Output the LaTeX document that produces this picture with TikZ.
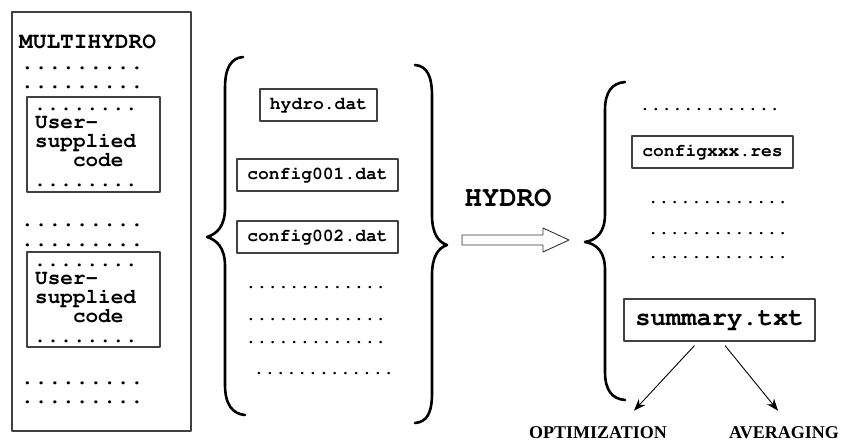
\documentclass[tikz,border=0pt]{standalone}
\usepackage{fontspec}
\usepackage{tikz}
\usetikzlibrary{arrows.meta, positioning}
\newfontfamily\labelfont{Liberation Serif}
\newcommand{\cour}{\fontencoding{T1}\fontfamily{pcr}\fontseries{b}\selectfont}

\begin{document}
\begin{tikzpicture}[x=1pt, y=-1pt, line join=round,
  frame/.style={draw=black!75, line width=1.2pt, inner sep=0pt},
  box/.style={draw=black!75, line width=1.1pt, inner sep=0pt, font=\cour\fontsize{18}{20}\selectfont},
  dots/.style={anchor=west, inner sep=0pt, font=\cour\fontsize{#1}{#1}\selectfont},
  dots/.default=18,
  usercode/.style={anchor=west, align=left, inner sep=0pt, font=\cour\fontsize{21}{19}\selectfont},
  brace/.style={line width=2.6pt, line cap=round},
  arrow/.style={-{Stealth[length=12pt,width=9pt]}, line width=0.9pt},
  result/.style={inner sep=0pt, font=\labelfont\bfseries\fontsize{18}{20}\selectfont}]
\useasboundingbox (0,0) rectangle (846,444);

% main program with the two user routines
\node[frame, minimum width=179pt, minimum height=419pt] (prog) at (101.5,221.5) {};
\node[anchor=west, inner sep=0pt, font=\cour\fontsize{22.8}{24}\selectfont] (name) at (19,42) {MULTIHYDRO};
\node[dots=22.8] (p1) at (20.5,68) {.........};
\node[dots=22.8] (p2) at (20.5,87) {.........};
\node[frame, minimum width=133pt, minimum height=95pt] (user1) at (93.5,144.5) {};
\node[dots=21.7] (u1a) at (33.5,109) {........};
\node[usercode] (c1) at (35,143) {User-\\supplied\\\phantom{sup}code};
\node[dots=21.7] (u1b) at (33.5,185) {........};
\node[dots=22.8] (p3) at (20.5,225) {.........};
\node[dots=22.8] (p4) at (20.5,245) {.........};
\node[frame, minimum width=133pt, minimum height=95pt] (user2) at (93.5,299.5) {};
\node[dots=21.7] (u2a) at (33.5,265) {........};
\node[usercode] (c2) at (35,299) {User-\\supplied\\\phantom{sup}code};
\node[dots=21.7] (u2b) at (33.5,341) {........};
\node[dots=22.8] (p5) at (20.5,383) {.........};
\node[dots=22.8] (p6) at (20.5,402) {.........};

% input files
\draw[brace] (243,57) .. controls (231,58) and (225,68) .. (225,88) -- (225,208)
  .. controls (225,226) and (217,234) .. (207,237) .. controls (217,240) and (225,248) .. (225,266)
  -- (225,385) .. controls (225,405) and (233,414) .. (245,415);
\node[box, minimum width=117pt, minimum height=32pt] (hyd) at (318.5,105) {hydro.dat};
\node[box, minimum width=161pt, minimum height=32pt] (cf1) at (317.5,175) {config001.dat};
\node[box, minimum width=161pt, minimum height=32pt] (cf2) at (317.5,237) {config002.dat};
\node[dots] (i1) at (245.5,287) {.............};
\node[dots] (i2) at (245.5,319) {.............};
\node[dots] (i3) at (245.5,342) {.............};
\node[dots] (i4) at (253.5,373) {.............};
\draw[brace] (415,65) .. controls (427,66) and (432,76) .. (432,96) -- (432,215)
  .. controls (432,233) and (438,242) .. (447,245) .. controls (438,248) and (432,257) .. (432,275)
  -- (432,393) .. controls (432,413) and (427,422) .. (415,423);

% run step
\node[inner sep=0pt, font=\cour\fontsize{29}{30}\selectfont] (run) at (508,198) {HYDRO};
\draw[line width=0.9pt, draw=black!80] (462,235) -- (543,235) -- (543,228) -- (569,240)
  -- (543,252) -- (543,245) -- (462,245) -- cycle;

% output files
\draw[brace] (625,82) .. controls (612,83) and (605,92) .. (605,110) -- (605,214)
  .. controls (605,232) and (597,240) .. (585,242) .. controls (597,244) and (605,252) .. (605,270)
  -- (605,372) .. controls (605,390) and (612,399) .. (625,400);
\node[dots] (o1) at (639.5,109) {.............};
\node[box, minimum width=161pt, minimum height=32pt] (res) at (712.5,152) {configxxx.res};
\node[dots] (o2) at (647.6,202) {.............};
\node[dots] (o3) at (647.6,233) {.............};
\node[dots] (o4) at (647.6,257) {.............};
\node[box, minimum width=191pt, minimum height=42pt, font=\cour\fontsize{25.5}{28}\selectfont] (sum) at (719.5,320) {summary.txt};

\node[result, anchor=east] (opt) at (667,433) {OPTIMIZATION};
\node[result] (avg) at (784,433) {AVERAGING};
\draw[arrow] ([xshift=-25pt,yshift=-4pt]sum.south) -- ([xshift=36pt,yshift=16pt]opt.north);
\draw[arrow] ([xshift=5.5pt,yshift=-4pt]sum.south) -- ([xshift=-6pt,yshift=16pt]avg.north);
\end{tikzpicture}
\end{document}
